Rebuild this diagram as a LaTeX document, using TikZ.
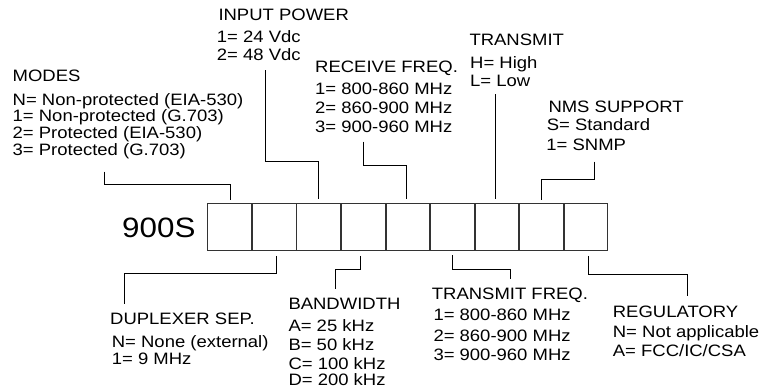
\documentclass[tikz,border=0pt]{standalone}
\usepackage{fontspec}
\setmainfont{Liberation Sans}[FakeStretch=1.12]
\begin{document}
\begin{tikzpicture}[x=1pt,y=-1pt,
  lbl/.style={anchor=base west,inner sep=0pt,font=\fontsize{16.5}{20}\selectfont},
  big/.style={anchor=base west,inner sep=0pt,font=\fontsize{28}{32}\selectfont},
  cell/.style={draw=black!80,line width=0.9pt,minimum width=43.7pt,minimum height=46.7pt,inner sep=0pt,anchor=north west},
  conn/.style={draw=black,line width=0.9pt}]
\useasboundingbox (0,0) rectangle (763,389);
% boxes
\foreach \i in {1,...,9}{
  \node[cell] (b\i) at ({207.3+44.55*(\i-1)},202.8) {};
}
\node[big] (title) at (122,237) {900S};
% INPUT POWER
\node[lbl] (ip0) at (218.3,20.8) {INPUT POWER};
\node[lbl] (ip1) at (216.7,42.5) {1= 24 Vdc};
\node[lbl] (ip2) at (216.7,60.8) {2= 48 Vdc};
% MODES
\node[lbl] (m0) at (12.5,81.8) {MODES};
\node[lbl] (m1) at (12.5,105) {N= Non-protected (EIA-530)};
\node[lbl] (m2) at (12.5,121.7) {1= Non-protected (G.703)};
\node[lbl] (m3) at (12.5,138.4) {2= Protected (EIA-530)};
\node[lbl] (m4) at (12.5,155) {3= Protected (G.703)};
% RECEIVE FREQ
\node[lbl] (r0) at (315,72.5) {RECEIVE FREQ.};
\node[lbl] (r1) at (315,94) {1= 800-860 MHz};
\node[lbl] (r2) at (315,113) {2= 860-900 MHz};
\node[lbl] (r3) at (315,132.5) {3= 900-960 MHz};
% TRANSMIT
\node[lbl] (t0) at (469.3,45.8) {TRANSMIT};
\node[lbl] (t1) at (470,68) {H= High};
\node[lbl] (t2) at (470,86.8) {L= Low};
% NMS SUPPORT
\node[lbl] (n0) at (548.3,112.5) {NMS SUPPORT};
\node[lbl] (n1) at (546.7,130.8) {S= Standard};
\node[lbl] (n2) at (546.2,150.8) {1= SNMP};
% DUPLEXER SEP.
\node[lbl] (d0) at (110,324) {DUPLEXER SEP.};
\node[lbl] (d1) at (111.7,347.5) {N= None (external)};
\node[lbl] (d2) at (111.7,364) {1= 9 MHz};
% BANDWIDTH
\node[lbl] (w0) at (288.3,309) {BANDWIDTH};
\node[lbl] (w1) at (288.3,331.8) {A= 25 kHz};
\node[lbl] (w2) at (288.3,350.8) {B= 50 kHz};
\node[lbl] (w3) at (288.3,369) {C= 100 kHz};
\node[lbl] (w4) at (288.3,385) {D= 200 kHz};
% TRANSMIT FREQ.
\node[lbl] (f0) at (431.7,299) {TRANSMIT FREQ.};
\node[lbl] (f1) at (433.3,320.8) {1= 800-860 MHz};
\node[lbl] (f2) at (433.3,341.8) {2= 860-900 MHz};
\node[lbl] (f3) at (433.3,360) {3= 900-960 MHz};
% REGULATORY
\node[lbl] (g0) at (612.7,317.5) {REGULATORY};
\node[lbl] (g1) at (612.7,337.5) {N= Not applicable};
\node[lbl] (g2) at (612.7,356.8) {A= FCC/IC/CSA};
% connector free ends
\coordinate (cM) at (104,171.7);
\coordinate (cI) at (265,70);
\coordinate (cR) at (363.3,141.7);
\coordinate (cT) at (495.3,94.3);
\coordinate (cN) at (594.3,161.7);
\coordinate (cD) at (124.3,304.3);
\coordinate (cB) at (335.7,289.3);
\coordinate (cF) at (510,279.3);
\coordinate (cG) at (687.3,296);
\coordinate (b7t) at ([yshift=4pt]b7.north);
% top connectors
\draw[conn] (cM) -- ++(0,12.8) -| ([xshift=0.8pt,yshift=3pt]b1.north);
\draw[conn] (cI) -- ++(0,91) -| ([xshift=-0.6pt,yshift=4pt]b3.north);
\draw[conn] (cR) -- ++(0,24) -| ([xshift=-1.6pt,yshift=4pt]b5.north);
\draw[conn] (cT) -- (cT |- b7t);
\draw[conn] (cN) -- ++(0,17.6) -| ([xshift=-0.3pt,yshift=2.5pt]b8.north);
% bottom connectors
\draw[conn] ([xshift=2pt,yshift=-5.5pt]b2.south) -- ++(0,17.5) -| (cD);
\draw[conn] ([xshift=-2.5pt,yshift=-5.5pt]b4.south) -- ++(0,14) -| (cB);
\draw[conn] ([xshift=-0.2pt,yshift=-5pt]b6.south) -- ++(0,14) -| (cF);
\draw[conn] ([xshift=2.3pt,yshift=-5.5pt]b9.south) -- ++(0,18.3) -| (cG);
\end{tikzpicture}
\end{document}
